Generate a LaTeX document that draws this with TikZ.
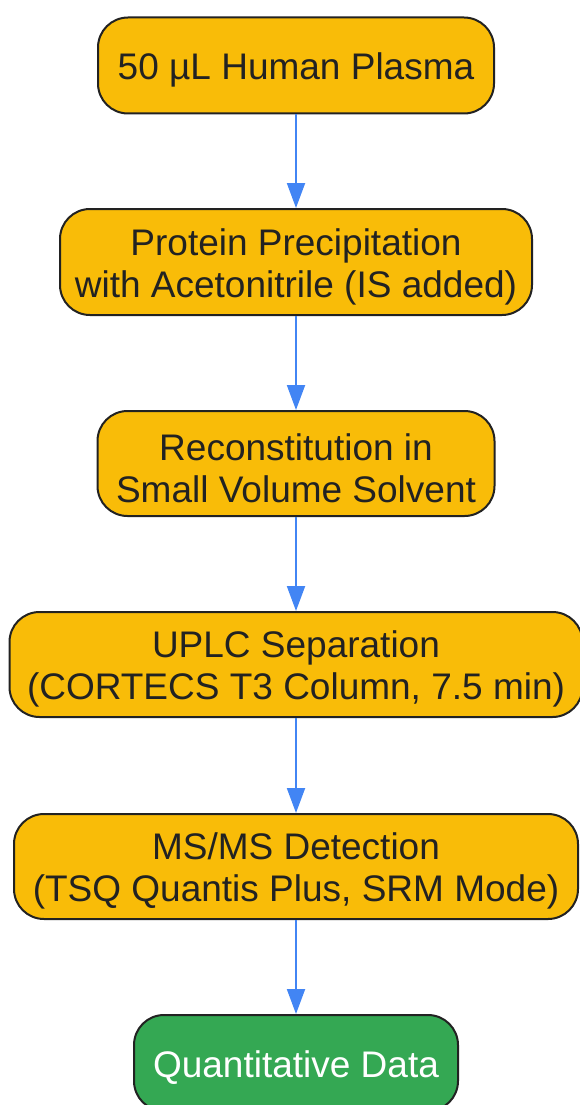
\documentclass[tikz,border=0pt]{standalone}
\usepackage{fontspec}
\setmainfont{Liberation Sans}
\usetikzlibrary{arrows.meta}
\definecolor{boxyellow}{RGB}{249,188,8}
\definecolor{boxgreen}{RGB}{52,168,83}
\definecolor{arrowblue}{RGB}{66,133,244}
\definecolor{edgedark}{RGB}{34,34,34}
\tikzset{
  stepbox/.style={draw=edgedark, line width=2pt, rounded corners=30pt, fill=boxyellow, inner sep=0pt},
  endbox/.style={stepbox, fill=boxgreen},
  txt/.style={align=center, inner sep=0pt, text=edgedark, yshift=-4.5pt, font=\fontsize{37}{42}\selectfont},
  wtxt/.style={txt, text=white},
  flow/.style={draw=arrowblue, line width=2pt, -{Triangle[width=18pt,length=25pt]}}
}
\begin{document}
\begin{tikzpicture}[x=1pt,y=-1pt]
\useasboundingbox (0,0) rectangle (580,1105);
\node[stepbox, minimum width=396pt, minimum height=96pt, label={[txt]center:{50 µL Human Plasma}}] (a) at (296,65.5) {};
\node[stepbox, minimum width=472pt, minimum height=106pt, label={[txt]center:{Protein Precipitation\\with Acetonitrile (IS added)}}] (b) at (296,262) {};
\node[stepbox, minimum width=397pt, minimum height=105pt, label={[txt]center:{Reconstitution in\\Small Volume Solvent}}] (c) at (296,463.5) {};
\node[stepbox, minimum width=573pt, minimum height=105pt, label={[txt]center:{UPLC Separation\\(CORTECS T3 Column, 7.5 min)}}] (d) at (296,664.5) {};
\node[stepbox, minimum width=564pt, minimum height=105pt, label={[txt]center:{MS/MS Detection\\(TSQ Quantis Plus, SRM Mode)}}] (e) at (296,866.5) {};
\node[endbox, minimum width=324pt, minimum height=96pt, label={[wtxt]center:{Quantitative Data}}] (f) at (296,1063) {};
\draw[flow] (a.south) -- (b.north);
\draw[flow] (b.south) -- (c.north);
\draw[flow] (c.south) -- (d.north);
\draw[flow] (d.south) -- (e.north);
\draw[flow] (e.south) -- (f.north);
\end{tikzpicture}
\end{document}
